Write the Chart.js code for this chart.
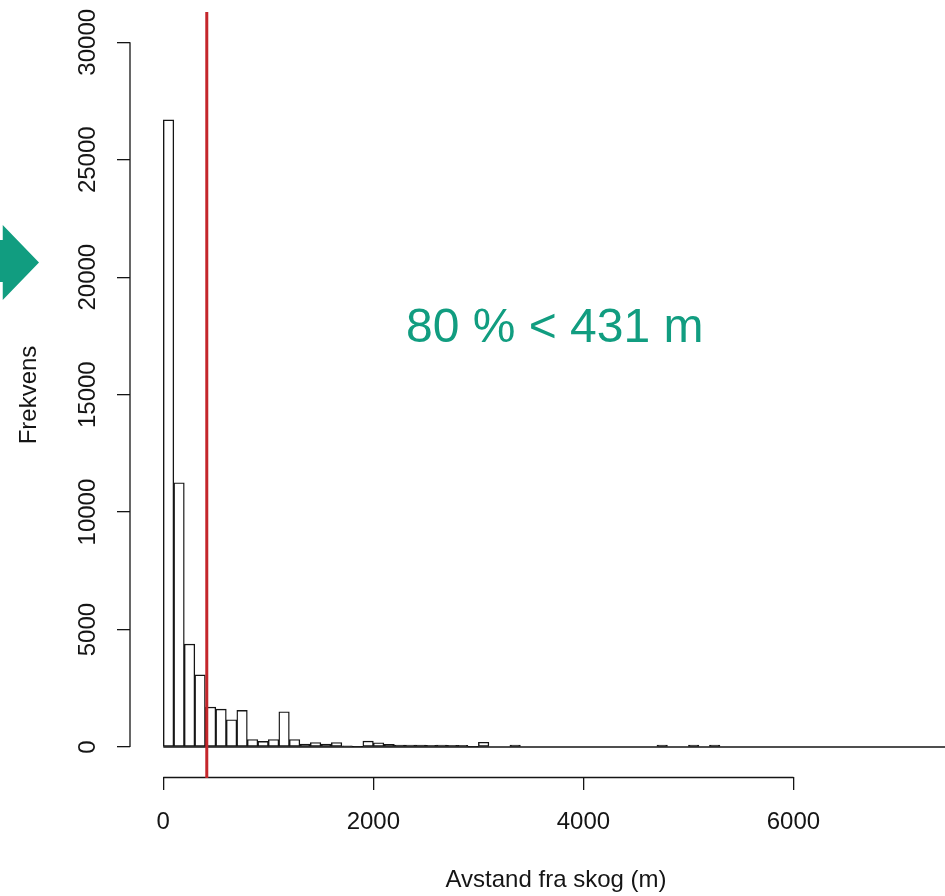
<!DOCTYPE html>
<html>
<head>
<meta charset="utf-8">
<script src="https://cdn.jsdelivr.net/npm/chart.js@4.4.1/dist/chart.umd.min.js"></script>
<style>
html,body{margin:0;padding:0;overflow:hidden;background:#fff;width:945px;height:896px;}
#wrap{position:relative;width:990px;height:896px;}
#c{position:absolute;left:0;top:0;}
#arrow{position:absolute;left:-10px;top:225px;width:49px;height:75px;background:#119d80;
  clip-path:polygon(0 20%,26% 20%,26% 0,100% 50%,26% 100%,26% 76%,0 76%);}
#note{position:absolute;left:406px;top:302px;font:48px/47px 'Liberation Sans',Arial,sans-serif;color:#119d80;white-space:nowrap;}
</style>
</head>
<body>
<div id="wrap">
<canvas id="c" width="990" height="896"></canvas>
<div id="arrow"></div>
<div id="note">80 % &lt; 431 m</div>
</div>
<script>
// ---- data ----
const binStart = 0;
const binWidth = 100;
const counts = [
  26700, 11250, 4380, 3070, 1700, 1610, 1160, 1560, 320, 240,
  320, 1500, 320, 120, 190, 120, 190, 50, 10, 250,
  180, 110, 85, 80, 85, 75, 80, 75, 70, 5,
  200, 0, 0, 80, 0, 0, 0, 0, 0, 0,
  0, 0, 0, 0, 0, 0, 0, 80, 0, 0,
  80, 0, 80, 0, 0, 0, 0, 0, 0, 0,
  0, 0, 0, 0, 0, 0, 0, 0, 0, 0,
  0, 0, 0, 0, 0, 0, 0, 0
];
const cutoff = 414;
const xTicks = [0, 2000, 4000, 6000];
const yTicks = [0, 5000, 10000, 15000, 20000, 25000, 30000];
const xTitle = 'Avstand fra skog (m)';
const yTitle = 'Frekvens';

// ---- axis ranges (R-style 4% extension) ----
const xMin = -317, xMax = 7795;
const yMin = -1277, yMax = 31247;

const FONT = "'Liberation Sans', Arial, sans-serif";
const INK = '#151515';

const barData = counts.map((c, i) => ({ x: binStart + binWidth * (i + 0.5), y: c }));

const rPlugin = {
  id: 'rStyle',
  afterDatasetsDraw(chart) {
    const { ctx, chartArea, scales: { x, y } } = chart;
    ctx.save();
    ctx.strokeStyle = INK;
    // histogram baseline across all bins
    ctx.lineWidth = 1.5;
    const y0 = y.getPixelForValue(0);
    ctx.beginPath();
    ctx.moveTo(x.getPixelForValue(binStart), y0);
    ctx.lineTo(x.getPixelForValue(binStart + binWidth * counts.length), y0);
    ctx.stroke();
    // R-style axis lines (first to last tick)
    ctx.lineWidth = 1.3;
    const xb = chartArea.bottom + 0.5;
    ctx.beginPath();
    ctx.moveTo(x.getPixelForValue(xTicks[0]), xb);
    ctx.lineTo(x.getPixelForValue(xTicks[xTicks.length - 1]), xb);
    ctx.stroke();
    const yl = chartArea.left;
    ctx.beginPath();
    ctx.moveTo(yl, y.getPixelForValue(yTicks[0]));
    ctx.lineTo(yl, y.getPixelForValue(yTicks[yTicks.length - 1]));
    ctx.stroke();
    // red cutoff line
    const xc = x.getPixelForValue(cutoff);
    ctx.strokeStyle = '#c4262b';
    ctx.lineWidth = 3;
    ctx.beginPath();
    ctx.moveTo(xc, chartArea.top - 1);
    ctx.lineTo(xc, chartArea.bottom + 1);
    ctx.stroke();
    ctx.restore();
  }
};

new Chart(document.getElementById('c'), {
  type: 'bar',
  data: {
    datasets: [{
      data: barData,
      // very short bars render as a solid outline (as the R device does)
      backgroundColor: c => {
        const sc = c.chart.scales && c.chart.scales.y;
        if (!sc || !c.raw) return '#ffffff';
        const h = sc.getPixelForValue(0) - sc.getPixelForValue(c.raw.y);
        return h < 3 ? INK : '#ffffff';
      },
      borderColor: INK,
      borderWidth: 1.4,
      borderSkipped: false,
      barPercentage: 1,
      categoryPercentage: 1
    }]
  },
  options: {
    responsive: false,
    animation: false,
    devicePixelRatio: 1,
    layout: { padding: { top: 13, right: 8, left: 0, bottom: 0 } },
    plugins: { legend: { display: false }, tooltip: { enabled: false } },
    scales: {
      x: {
        type: 'linear',
        min: xMin, max: xMax,
        offset: false,
        afterBuildTicks: s => { s.ticks = xTicks.map(v => ({ value: v })); },
        afterFit: s => { s.height = 119; },
        grid: { display: true, drawOnChartArea: false, drawTicks: true, tickLength: 13, color: INK, lineWidth: 1.3, offset: false },
        border: { display: false },
        ticks: { autoSkip: false, maxRotation: 0, minRotation: 0, padding: 18, color: INK,
                 font: { family: FONT, size: 24 }, callback: v => String(v) },
        title: { display: true, text: xTitle, color: INK, font: { family: FONT, size: 24 }, padding: { top: 0, bottom: 1 } }
      },
      y: {
        type: 'linear',
        min: yMin, max: yMax,
        afterBuildTicks: s => { s.ticks = yTicks.map(v => ({ value: v })); },
        afterFit: s => { s.width = 130; },
        grid: { display: true, drawOnChartArea: false, drawTicks: true, tickLength: 13, color: INK, lineWidth: 1.3 },
        border: { display: false },
        ticks: { autoSkip: false, minRotation: 90, maxRotation: 90, crossAlign: 'center', padding: -4.7, color: INK,
                 font: { family: FONT, size: 24 }, callback: v => String(v) },
        title: { display: true, text: yTitle, color: INK, font: { family: FONT, size: 24 }, padding: { top: 15, bottom: 0 } }
      }
    }
  },
  plugins: [rPlugin]
});
</script>
</body>
</html>
